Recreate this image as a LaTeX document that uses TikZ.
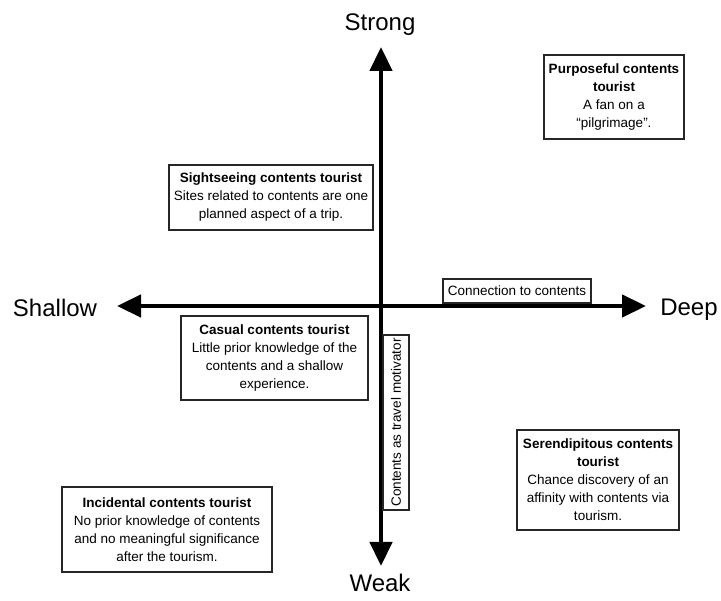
\documentclass[tikz,border=0pt]{standalone}
\usepackage{fontspec}
\setmainfont{Liberation Sans}
\usepackage{tikz}
\usetikzlibrary{arrows.meta, positioning}

\tikzset{
  axis/.style = {line width=4.5pt, {Triangle[length=24pt,width=22pt]}-{Triangle[length=24pt,width=22pt]}},
  typebox/.style = {draw=black!85, line width=1.2pt, fill=white, align=center, inner sep=2pt,
                    font=\fontsize{13.5}{18}\selectfont},
  polelabel/.style = {font=\fontsize{24}{28}\selectfont}
}

\begin{document}
\begin{tikzpicture}[x=1pt, y=-1pt]
  \useasboundingbox (0,0) rectangle (721,601);
  % axis end points
  \coordinate (shallowtip) at (117,306);
  \coordinate (deeptip) at (646,306);
  \coordinate (strongtip) at (381,47);
  \coordinate (weaktip) at (381,566);
  \draw[axis] (shallowtip) -- (deeptip);
  \draw[axis] (weaktip) -- (strongtip);

  % pole labels
  \node[polelabel] (strong) at (380,25) {Strong};
  \node[polelabel] (weak) at (380,583) {Weak};
  \node[polelabel] (shallow) at (55,308) {Shallow};
  \node[polelabel] (deep) at (689,310) {Deep};

  % axis names
  \node[typebox, minimum width=148pt, minimum height=24pt] (connection) at (517,291) {Connection to contents};
  \node[typebox, rotate=90, minimum width=175pt, minimum height=26pt] (motivator) at (396,422.5) {Contents as travel motivator};

  % tourist types
  \node[typebox, minimum width=140pt, minimum height=84pt] (purposeful) at (614,97)
    {\textbf{Purposeful contents}\\ \textbf{tourist}\\ A fan on a\\ “pilgrimage”.};
  \node[typebox, minimum width=204pt, minimum height=65pt] (sightseeing) at (271,197.5)
    {\textbf{Sightseeing contents tourist}\\ Sites related to contents are one\\ planned aspect of a trip.};
  \node[typebox, minimum width=187pt, minimum height=84pt] (casual) at (274.5,358)
    {\textbf{Casual contents tourist}\\ Little prior knowledge of the\\ contents and a shallow\\ experience.};
  \node[typebox, minimum width=162pt, minimum height=100pt] (serendipitous) at (598,480)
    {\textbf{Serendipitous contents}\\ \textbf{tourist}\\ Chance discovery of an\\ affinity with contents via\\ tourism.};
  \node[typebox, minimum width=210pt, minimum height=85pt] (incidental) at (167,529.5)
    {\textbf{Incidental contents tourist}\\ No prior knowledge of contents\\ and no meaningful significance\\ after the tourism.};
\end{tikzpicture}
\end{document}
